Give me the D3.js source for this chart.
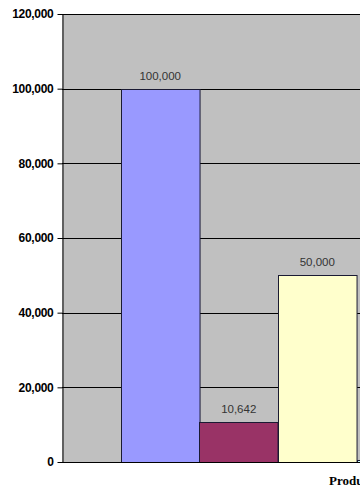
<!DOCTYPE html>
<html><head><meta charset="utf-8">
<script src="https://cdn.jsdelivr.net/npm/d3@7"></script>
<style>html,body{margin:0;padding:0;background:#fff;overflow:hidden}</style>
</head><body>
<script>
const seriesNames = ["Series A", "Series B", "Series C", "Series D"];
const seriesValues = [100000, 10642, 50000, 500];
const seriesColors = ["#9999FF", "#993366", "#FFFFCC", "#CCFFFF"];
const yTicks = [0, 20000, 40000, 60000, 80000, 100000, 120000];
const categoryLabel = "Product";

(function () {
const W = 360, H = 488;
const mLeft = 62, mRight = 494, mTop = 14, mBottom = 462;

const svg = d3.select("body").append("svg").attr("width", W).attr("height", H);

const y = d3.scaleLinear().domain([0, 120000]).range([mBottom, mTop]);
const x = d3.scaleBand().domain(seriesNames).range([mLeft, mRight]).paddingInner(0).paddingOuter(0.75);

svg.append("rect").attr("x", mLeft).attr("y", mTop).attr("width", mRight - mLeft).attr("height", mBottom - mTop).attr("fill", "#C0C0C0");

svg.append("g").selectAll("line").data(yTicks.filter(d => d > 0)).join("line")
  .attr("x1", mLeft).attr("x2", mRight)
  .attr("y1", d => Math.round(y(d)) + 0.5).attr("y2", d => Math.round(y(d)) + 0.5)
  .attr("stroke", "#000").attr("stroke-width", 1);

svg.append("g").selectAll("rect").data(seriesNames).join("rect")
  .attr("x", d => Math.round(x(d)) + 0.5)
  .attr("y", (d, i) => Math.round(y(seriesValues[i])) + 0.5)
  .attr("width", x.bandwidth())
  .attr("height", (d, i) => Math.round(mBottom - y(seriesValues[i])))
  .attr("fill", (d, i) => seriesColors[i])
  .attr("stroke", "#1a1a33").attr("stroke-width", 1);

// value labels (only those whose bars are in view)
svg.append("g").selectAll("text").data(seriesNames.filter(d => x(d) + x.bandwidth() / 2 < W - 20)).join("text")
  .attr("x", d => x(d) + x.bandwidth() / 2)
  .attr("y", d => y(seriesValues[seriesNames.indexOf(d)]) - 9)
  .attr("text-anchor", "middle")
  .attr("font-family", "Liberation Sans, Arial, sans-serif")
  .attr("font-size", 11.5).attr("fill", "#333")
  .text(d => d3.format(",")(seriesValues[seriesNames.indexOf(d)]));

const yAxis = d3.axisLeft(y).tickValues(yTicks).tickFormat(d3.format(",")).tickSize(5).tickSizeOuter(0);
const ga = svg.append("g").attr("transform", `translate(${mLeft + 0.5},0)`).call(yAxis);
ga.select(".domain").attr("stroke", "#000");
ga.selectAll(".tick line").attr("stroke", "#000");
ga.selectAll(".tick text").attr("font-family", "Liberation Sans, Arial, sans-serif")
  .attr("font-size", 12).attr("font-weight", "bold").attr("fill", "#000").attr("x", -9)
  .attr("letter-spacing", "-0.3");

svg.append("line").attr("x1", mLeft).attr("x2", mRight).attr("y1", mBottom + 0.5).attr("y2", mBottom + 0.5).attr("stroke", "#000");

svg.append("text").attr("x", 329).attr("y", 485)
  .attr("font-family", "Liberation Serif, Times New Roman, serif")
  .attr("font-size", 13).attr("font-weight", "bold").attr("fill", "#000")
  .text(categoryLabel);
})();
</script>
</body></html>
